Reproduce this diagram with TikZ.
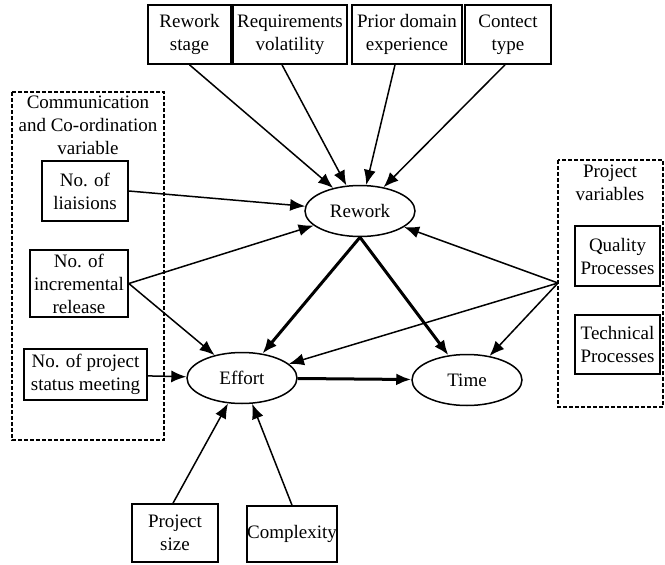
\documentclass[tikz,border=0pt]{standalone}
\usepackage{fontspec}
\setmainfont{Liberation Serif}
\usetikzlibrary{arrows.meta,shapes.geometric}

\begin{document}
\begin{tikzpicture}[x=1pt,y=-1pt]
\tikzstyle{every node}=[font=\fontsize{19}{23}\selectfont,align=center,inner sep=0pt];
\tikzstyle{var}=[draw,line width=1.6pt,minimum height=59pt];
\tikzstyle{main}=[draw,ellipse,line width=1.5pt,minimum width=110pt,minimum height=51pt];
\tikzstyle{arr}=[line width=1.5pt,-{Latex[length=15pt,width=12pt]}];
\tikzstyle{bigarr}=[line width=3pt,-{Latex[length=15pt,width=12pt]}];
\tikzstyle{group}=[draw,line width=1.5pt,dash pattern=on 4pt off 2pt];
\useasboundingbox (0,0) rectangle (665,565);

% groups
\draw[group] (12,92) rectangle (164,440);
\draw[group] (558,160) rectangle (663,407);
\node (commlabel) at (88,125) {Communication\\and Co-ordination\\variable};
\node (projlabel) at (610,183) {Project\\variables};

% top factors
\node[var,minimum width=83pt] (stage) at (189.5,34.5) {Rework\\stage};
\node[var,minimum width=114pt] (volat) at (290,34.5) {Requirements\\volatility};
\node[var,minimum width=110pt] (prior) at (407,34.5) {Prior domain\\experience};
\node[var,minimum width=86pt] (contect) at (508,34.5) {Contect\\type};

% left factors
\node[var,minimum width=86pt,minimum height=60pt] (liais) at (85,191) {No. of\\liaisions};
\node[var,minimum width=98pt,minimum height=67pt] (incr) at (79,283.5) {No. of\\incremental\\release};
\node[var,minimum width=123pt,minimum height=51pt] (status) at (85.5,374.5) {No. of project\\status meeting};

% right factors
\node[var,minimum width=85pt,minimum height=60pt] (quality) at (617.5,256) {Quality\\Processes};
\node[var,minimum width=85pt] (technical) at (617.5,344.5) {Technical\\Processes};
\coordinate (pv) at (558,283);

% bottom factors
\node[var,minimum width=86pt,minimum height=58pt] (size) at (175,533) {Project\\size};
\node[var,minimum width=86pt,minimum height=56pt] (complexity) at (292,534) {Complexity};

% outcomes
\node[main] (rework) at (360,211) {Rework};
\node[main] (effort) at (242,378) {Effort};
\node[main] (time) at (467,380) {Time};

% connectors
\draw[arr] (stage.south) -- (rework);
\draw[arr] ([xshift=-8pt]volat.south) -- (rework);
\draw[arr] ([xshift=-12pt]prior.south) -- (rework);
\draw[arr] ([xshift=-3pt]contect.south) -- (rework);
\draw[arr] (liais.east) -- (rework);
\draw[arr] (incr.east) -- (rework);
\draw[arr] (incr.east) -- (effort);
\draw[arr] (status) -- (effort);
\draw[arr] (pv) -- (rework);
\draw[arr] (pv) -- (effort);
\draw[arr] (pv) -- (time);
\draw[arr] ([xshift=-2pt]size.north) -- (effort);
\draw[arr] (complexity.north) -- (effort);
\draw[bigarr] (rework.south) -- (effort);
\draw[bigarr] (rework.south) -- (time);
\draw[bigarr] (effort) -- (time);
\end{tikzpicture}
\end{document}
